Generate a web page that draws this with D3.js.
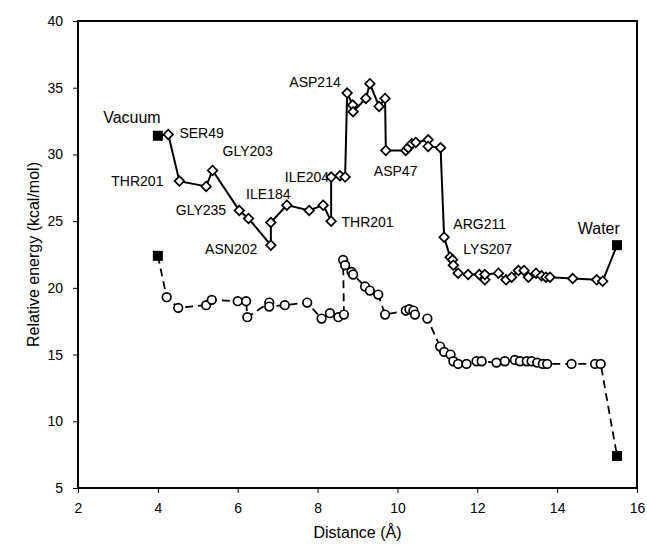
<!DOCTYPE html>
<html><head><meta charset="utf-8">
<script src="https://cdn.jsdelivr.net/npm/d3@7"></script>
<style>
html,body{margin:0;padding:0;background:#fff;}
svg{display:block;font-family:"Liberation Sans",Arial,sans-serif;}
</style></head>
<body>
<svg id="chart" width="647" height="550"></svg>
<script>
// ---- data ----
const xTicks = [2,4,6,8,10,12,14,16];
const yTicks = [5,10,15,20,25,30,35,40];

const vacuumX = 4, vacuumUpper = 31.4, vacuumLower = 22.4;
const waterX = 15.5, waterUpper = 23.2, waterLower = 7.4;

const upperX = [4.26,4.54,5.21,5.37,6.04,6.27,6.83,6.83,7.23,7.79,8.14,8.34,8.34,8.56,8.69,8.74,8.88,8.89,9.21,9.31,9.54,9.69,9.71,10.21,10.27,10.36,10.46,10.77,10.77,11.08,11.17,11.32,11.38,11.40,11.52,11.77,12.05,12.19,12.19,12.53,12.72,12.86,13.03,13.17,13.28,13.47,13.61,13.72,13.82,14.39,14.99,15.14];
const upperY = [31.5,28.0,27.6,28.8,25.8,25.2,23.2,24.9,26.2,25.8,26.2,25.0,28.3,28.4,28.3,34.6,33.7,33.2,34.2,35.3,33.6,34.2,30.3,30.3,30.5,30.8,30.9,31.1,30.6,30.5,23.8,22.3,22.1,21.7,21.1,21.0,21.0,20.6,21.0,21.1,20.6,20.8,21.3,21.3,20.8,21.1,20.9,20.8,20.8,20.7,20.6,20.5];

const lowerX = [4.22,4.51,5.21,5.35,6.00,6.21,6.24,6.79,6.79,7.18,7.74,8.10,8.31,8.52,8.66,8.64,8.69,8.85,8.89,9.19,9.31,9.52,9.69,10.21,10.30,10.40,10.44,10.75,11.07,11.17,11.33,11.40,11.52,11.73,11.98,12.11,12.48,12.69,12.94,13.07,13.24,13.36,13.50,13.64,13.75,14.36,14.95,15.09];
const lowerY = [19.3,18.5,18.7,19.1,19.0,19.0,17.8,18.9,18.6,18.7,18.9,17.7,18.1,17.8,18.0,22.1,21.7,21.2,21.0,20.1,19.8,19.5,18.0,18.3,18.4,18.3,18.0,17.7,15.6,15.2,15.0,14.5,14.3,14.3,14.5,14.5,14.4,14.5,14.6,14.5,14.5,14.5,14.4,14.3,14.3,14.3,14.3,14.3];

const labelTexts = ["Vacuum","SER49","THR201","GLY203","GLY235","ILE184","ASN202","ILE204","THR201","ASP214","ASP47","ARG211","LYS207","Water"];
const labelX = [2.63,4.54,4.14,5.62,5.71,6.21,6.49,8.29,8.60,8.58,9.41,11.40,11.65,15.57];
const labelY = [32.35,31.21,27.63,29.88,25.46,26.63,22.53,27.95,24.58,35.03,28.38,24.39,22.53,24.03];
const labelAnchor = ["start","start","end","start","end","start","end","end","start","end","start","start","start","end"];
const labelSize = [16,14,14,14,14,14,14,14,14,14,14,14,14,16];

// ---- layout ----
const L = 78, R = 637, T = 21, B = 488;
const svg = d3.select("#chart");
const x = d3.scaleLinear().domain([2,16]).range([L,R]);
const y = d3.scaleLinear().domain([5,40]).range([B,T]);

// axes
const xAxis = d3.axisBottom(x).tickValues(xTicks).tickSize(5).tickSizeOuter(0).tickPadding(10);
const yAxis = d3.axisLeft(y).tickValues(yTicks).tickSize(5).tickSizeOuter(0).tickPadding(10);
const gx = svg.append("g").attr("transform",`translate(0,${B})`).call(xAxis);
const gy = svg.append("g").attr("transform",`translate(${L},0)`).call(yAxis);
[gx,gy].forEach(g=>{
  g.select(".domain").remove();
  g.selectAll(".tick line").attr("stroke","#000").attr("stroke-width",1);
  g.selectAll(".tick text").attr("fill","#000").style("font-size","14px");
});

// frame
svg.append("rect").attr("x",L).attr("y",T).attr("width",R-L).attr("height",B-T)
  .attr("fill","none").attr("stroke","#000").attr("stroke-width",2);

// axis titles
svg.append("text").attr("x",(L+R)/2).attr("y",538).attr("text-anchor","middle")
  .style("font-size","16px").text("Distance (Å)");
svg.append("text").attr("transform",`translate(33,${(T+B)/2}) rotate(-90)`)
  .attr("text-anchor","middle").attr("dy","0.35em").style("font-size","16px").text("Relative energy (kcal/mol)");

// series
const upperPts = [[vacuumX,vacuumUpper]].concat(upperX.map((d,i)=>[d,upperY[i]])).concat([[waterX,waterUpper]]);
const lowerPts = [[vacuumX,vacuumLower]].concat(lowerX.map((d,i)=>[d,lowerY[i]])).concat([[waterX,waterLower]]);
const line = d3.line().x(d=>x(d[0])).y(d=>y(d[1]));

svg.append("path").attr("d",line(lowerPts)).attr("fill","none").attr("stroke","#000")
  .attr("stroke-width",1.8).attr("stroke-dasharray","8,5");
svg.append("path").attr("d",line(upperPts)).attr("fill","none").attr("stroke","#000")
  .attr("stroke-width",2);

// circles
svg.append("g").selectAll("circle").data(lowerX).join("circle")
  .attr("cx",d=>x(d)).attr("cy",(d,i)=>y(lowerY[i])).attr("r",4.3)
  .attr("fill","#fff").attr("stroke","#000").attr("stroke-width",1.7);

// diamonds
const dsym = d3.symbol().type(d3.symbolSquare).size(46);
svg.append("g").selectAll("path").data(upperX).join("path")
  .attr("d",dsym)
  .attr("transform",(d,i)=>`translate(${x(d)},${y(upperY[i])}) rotate(45)`)
  .attr("fill","#fff").attr("stroke","#000").attr("stroke-width",1.7);

// squares (vacuum & water)
const sq = [[vacuumX,vacuumUpper],[vacuumX,vacuumLower],[waterX,waterUpper],[waterX,waterLower]];
svg.append("g").selectAll("rect").data(sq).join("rect")
  .attr("x",d=>x(d[0])-5).attr("y",d=>y(d[1])-5).attr("width",10).attr("height",10)
  .attr("fill","#000");

// labels
svg.append("g").selectAll("text").data(labelTexts).join("text")
  .attr("x",(d,i)=>x(labelX[i])).attr("y",(d,i)=>y(labelY[i]))
  .attr("text-anchor",(d,i)=>labelAnchor[i])
  .style("font-size",(d,i)=>labelSize[i]+"px")
  .text(d=>d);
</script>
</body></html>
